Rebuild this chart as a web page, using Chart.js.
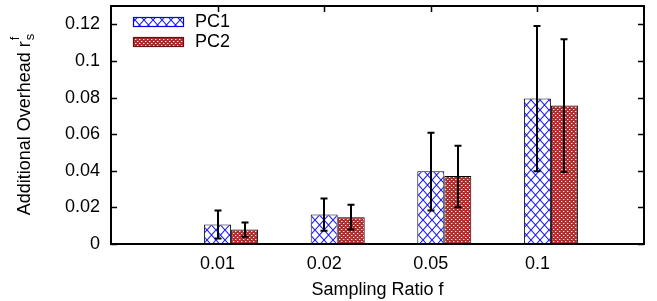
<!DOCTYPE html>
<html><head><meta charset="utf-8">
<script src="https://cdn.jsdelivr.net/npm/chart.js@4"></script>
<style>html,body{margin:0;padding:0;background:#fff;overflow:hidden}</style>
</head><body><canvas id="c" width="657" height="301"></canvas>
<script>
// ---- data ----
const categories = ['0.01', '0.02', '0.05', '0.1'];
const seriesNames = ['PC1', 'PC2'];
const pc1Values = [0.0106, 0.0161, 0.0397, 0.0795];
const pc1ErrLow = [0.0030, 0.0073, 0.0183, 0.0398];
const pc1ErrHigh = [0.0183, 0.0249, 0.0608, 0.1191];
const pc2Values = [0.0079, 0.0146, 0.0371, 0.0756];
const pc2ErrLow = [0.0040, 0.0079, 0.0201, 0.0393];
const pc2ErrHigh = [0.0117, 0.0214, 0.0537, 0.1118];
const yTickValues = [0, 0.02, 0.04, 0.06, 0.08, 0.1, 0.12];
const yTickLabels = ['0', '0.02', '0.04', '0.06', '0.08', '0.1', '0.12'];
const xTitle = 'Sampling Ratio f';
const yTitleMain = 'Additional Overhead r';
const yTitleSub = 's';
const yTitleSup = 'f';

const FONT = '"Liberation Sans", Arial, Helvetica, sans-serif';
const canvas = document.getElementById('c');
const ctx0 = canvas.getContext('2d');

function crossPattern() {
  const c = document.createElement('canvas'); c.width = 9; c.height = 10;
  const g = c.getContext('2d');
  g.fillStyle = '#fff'; g.fillRect(0, 0, 9, 10);
  g.strokeStyle = '#1a1aff'; g.lineWidth = 1.1;
  g.beginPath();
  g.moveTo(-1, -10 / 9); g.lineTo(10, 100 / 9);
  g.moveTo(10, -10 / 9); g.lineTo(-1, 100 / 9);
  g.stroke();
  return ctx0.createPattern(c, 'repeat');
}
function dotPattern() {
  const c = document.createElement('canvas'); c.width = 4; c.height = 4;
  const g = c.getContext('2d');
  g.fillStyle = '#a8302c'; g.fillRect(0, 0, 4, 4);
  g.fillStyle = 'rgba(255,255,255,0.9)';
  g.fillRect(1, 1, 1, 1); g.fillRect(3, 3, 1, 1);
  g.fillStyle = 'rgba(255,255,255,0.35)';
  g.fillRect(2, 1, 1, 1); g.fillRect(0, 3, 1, 1);
  return ctx0.createPattern(c, 'repeat');
}
const fills = [crossPattern(), dotPattern()];
const legendBorders = ['#0000ee', '#6a1010'];

// pad the category axis with an empty slot on each side
const labels = ['', ...categories, ''];
const pad = a => [null, ...a, null];
const errs = [
  { low: pad(pc1ErrLow), high: pad(pc1ErrHigh) },
  { low: pad(pc2ErrLow), high: pad(pc2ErrHigh) }
];

const framePlugin = {
  id: 'frame',
  beforeDatasetsDraw(chart) {
    const { ctx, chartArea: a, scales: { x, y } } = chart;
    ctx.save();
    ctx.strokeStyle = '#000'; ctx.lineWidth = 1.5;
    ctx.beginPath();
    yTickValues.forEach(v => {
      const py = Math.round(y.getPixelForValue(v)) + 0.5;
      ctx.moveTo(a.left, py); ctx.lineTo(a.left + 6, py);
      ctx.moveTo(a.right, py); ctx.lineTo(a.right - 6, py);
    });
    categories.forEach((c, i) => {
      const px = Math.round(x.getPixelForValue(i + 1)) + 0.5;
      ctx.moveTo(px, a.top); ctx.lineTo(px, a.top + 6);
      ctx.moveTo(px, a.bottom); ctx.lineTo(px, a.bottom - 6);
    });
    ctx.stroke();
    ctx.restore();
  },
  afterDatasetsDraw(chart) {
    const { ctx, chartArea: a, scales: { y } } = chart;
    ctx.save();
    ctx.strokeStyle = '#000'; ctx.lineWidth = 2;
    errs.forEach((e, k) => {
      const meta = chart.getDatasetMeta(k + 1);
      meta.data.forEach((bar, i) => {
        if (e.low[i] == null) return;
        const px = Math.round(bar.x);
        const y1 = y.getPixelForValue(e.low[i]);
        const y2 = y.getPixelForValue(e.high[i]);
        ctx.beginPath();
        ctx.moveTo(px, y1); ctx.lineTo(px, y2);
        ctx.moveTo(px - 3.5, y1); ctx.lineTo(px + 3.5, y1);
        ctx.moveTo(px - 3.5, y2); ctx.lineTo(px + 3.5, y2);
        ctx.stroke();
      });
    });
    ctx.lineWidth = 2;
    ctx.strokeRect(a.left, a.top, a.right - a.left, a.bottom - a.top);
    ctx.restore();
  },
  afterDraw(chart) {
    const { ctx, chartArea: a } = chart;
    ctx.save();
    seriesNames.forEach((name, i) => {
      const top = a.top + 11 + i * 20;
      const left = a.left + 22;
      ctx.fillStyle = fills[i];
      ctx.fillRect(left, top, 50, 9);
      ctx.strokeStyle = legendBorders[i]; ctx.lineWidth = 1.2;
      ctx.strokeRect(left + 0.5, top + 0.5, 50, 9);
      ctx.fillStyle = '#000';
      ctx.font = '18px ' + FONT;
      ctx.textBaseline = 'middle'; ctx.textAlign = 'left';
      ctx.fillText(name, left + 62, top + 5.5);
    });
    const cx = 25, cy = (a.top + a.bottom) / 2;
    ctx.translate(cx, cy);
    ctx.rotate(-Math.PI / 2);
    ctx.font = '18px ' + FONT;
    const wMain = ctx.measureText(yTitleMain).width;
    ctx.font = '13px ' + FONT;
    const wSub = Math.max(ctx.measureText(yTitleSub).width, ctx.measureText(yTitleSup).width);
    const start = -(wMain + wSub) / 2;
    ctx.fillStyle = '#000'; ctx.textAlign = 'left'; ctx.textBaseline = 'middle';
    ctx.font = '18px ' + FONT;
    ctx.fillText(yTitleMain, start, 0);
    ctx.font = '13px ' + FONT;
    ctx.fillText(yTitleSub, start + wMain + 1, 5);
    ctx.fillText(yTitleSup, start + wMain + 1, -10);
    ctx.restore();
  }
};

new Chart(canvas, {
  type: 'bar',
  data: {
    labels,
    datasets: [
      { label: '', data: labels.map(() => null), backgroundColor: 'rgba(0,0,0,0)', borderWidth: 0 },
      { label: seriesNames[0], data: pad(pc1Values), backgroundColor: fills[0], borderColor: '#000', borderWidth: 1 },
      { label: seriesNames[1], data: pad(pc2Values), backgroundColor: fills[1], borderColor: '#000', borderWidth: 1 }
    ]
  },
  options: {
    responsive: false,
    animation: false,
    devicePixelRatio: 1,
    layout: { padding: { top: 6, right: 13, left: 0, bottom: 0 } },
    datasets: { bar: { categoryPercentage: 0.76, barPercentage: 1.0 } },
    plugins: { legend: { display: false }, tooltip: { enabled: false } },
    scales: {
      x: {
        type: 'category',
        offset: false,
        grid: { display: false, drawTicks: false },
        border: { display: false },
        ticks: { color: '#000', font: { family: FONT, size: 18 }, padding: 9, autoSkip: false, maxRotation: 0 },
        title: { display: true, text: xTitle, color: '#000', font: { family: FONT, size: 18 }, padding: { top: 0, bottom: 0 } },
        afterFit(s) { s.height = 57; s.paddingLeft = 0; s.paddingRight = 0; }
      },
      y: {
        min: 0, max: 0.13,
        grid: { display: false, drawTicks: false },
        border: { display: false },
        afterBuildTicks(s) { s.ticks = yTickValues.map(v => ({ value: v })); },
        ticks: {
          color: '#000', font: { family: FONT, size: 18 }, padding: 11,
          callback: (v) => { const i = yTickValues.indexOf(v); return i >= 0 ? yTickLabels[i] : ''; }
        },
        afterFit(s) { s.width = 111; s.paddingTop = 0; s.paddingBottom = 0; }
      }
    }
  },
  plugins: [framePlugin]
});
</script>
</body></html>
